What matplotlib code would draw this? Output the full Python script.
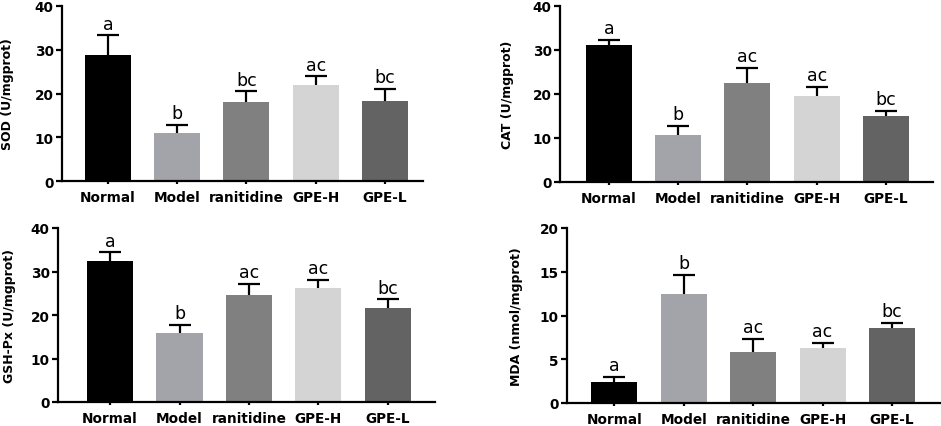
import matplotlib
matplotlib.use("Agg")
import matplotlib.pyplot as plt
import numpy as np

groups = ["Normal", "Model", "ranitidine", "GPE-H", "GPE-L"]
colors = ["#000000", "#a3a3aa", "#808080", "#d4d4d4", "#636363"]

sod_mean = [28.8, 10.9, 18.1, 22.0, 18.4]
sod_err = [4.5, 1.9, 2.4, 1.9, 2.7]
sod_sig = ["a", "b", "bc", "ac", "bc"]

cat_mean = [31.2, 10.6, 22.4, 19.5, 15.0]
cat_err = [1.1, 2.1, 3.6, 2.1, 1.2]
cat_sig = ["a", "b", "ac", "ac", "bc"]

gsh_mean = [32.4, 15.8, 24.7, 26.2, 21.7]
gsh_err = [2.0, 2.0, 2.5, 1.9, 1.9]
gsh_sig = ["a", "b", "ac", "ac", "bc"]

mda_mean = [2.4, 12.5, 5.8, 6.3, 8.6]
mda_err = [0.6, 2.1, 1.5, 0.6, 0.6]
mda_sig = ["a", "b", "ac", "ac", "bc"]

W, H = 941, 427
fig = plt.figure(figsize=(W / 100, H / 100), dpi=100)

# (left, right, bottom, top) in pixels, xlim, ylabel offset px
panels = [
    dict(box=(62, 423, 182, 7), xlim=(-0.664, 4.549), mean=sod_mean, err=sod_err, sig=sod_sig,
         ylabel="SOD (U/mgprot)", ymax=40, step=10, lab=-48),
    dict(box=(560, 933, 183, 7), xlim=(-0.708, 4.68), mean=cat_mean, err=cat_err, sig=cat_sig,
         ylabel="CAT (U/mgprot)", ymax=40, step=10, lab=-46),
    dict(box=(58, 435, 403, 229), xlim=(-0.75, 4.68), mean=gsh_mean, err=gsh_err, sig=gsh_sig,
         ylabel="GSH-Px (U/mgprot)", ymax=40, step=10, lab=-42),
    dict(box=(567, 940, 404, 229), xlim=(-0.68, 4.69), mean=mda_mean, err=mda_err, sig=mda_sig,
         ylabel="MDA (nmol/mgprot)", ymax=20, step=5, lab=-44),
]

bold = dict(family="DejaVu Sans", weight="bold")

for p in panels:
    l, r, b, t = p["box"]
    ax = fig.add_axes([l / W, 1 - b / H, (r - l) / W, (b - t) / H])
    x = np.arange(len(groups))
    mean = np.array(p["mean"])
    err = np.array(p["err"])
    ax.bar(x, mean, width=0.664, color=colors, zorder=2)
    eb = ax.errorbar(x, mean, yerr=[np.zeros_like(err), err], fmt="none", ecolor="black",
                     elinewidth=1.6, capsize=8, capthick=1.6, zorder=1)
    caps = eb[1]
    if len(caps) > 1:
        caps[0].set_visible(False)
    for xi, m, e, s in zip(x, mean, err, p["sig"]):
        ax.annotate(s, (xi, m + e), xytext=(0, 2), textcoords="offset points",
                    ha="center", va="bottom", fontsize=12.5, family="DejaVu Sans")
    ax.set_xlim(*p["xlim"])
    ax.set_ylim(0, p["ymax"])
    ax.set_yticks(np.arange(0, p["ymax"] + 0.1, p["step"]))
    ax.set_xticks(x)
    ax.set_xticklabels(groups)
    for sp in ["top", "right"]:
        ax.spines[sp].set_visible(False)
    for sp in ["left", "bottom"]:
        ax.spines[sp].set_linewidth(1.6)
    ax.tick_params(axis="y", length=4.5, width=1.6, pad=1.5)
    ax.tick_params(axis="x", length=2.5, width=1.6, pad=4)
    for lab in ax.get_xticklabels() + ax.get_yticklabels():
        lab.set_fontfamily("DejaVu Sans")
        lab.set_fontweight("bold")
        lab.set_fontsize(9.8)
    ax.set_ylabel(p["ylabel"], fontsize=9, **bold)
    ax.yaxis.set_label_coords(p["lab"] / (r - l), 0.5)

fig.savefig("out.png", dpi=100)
